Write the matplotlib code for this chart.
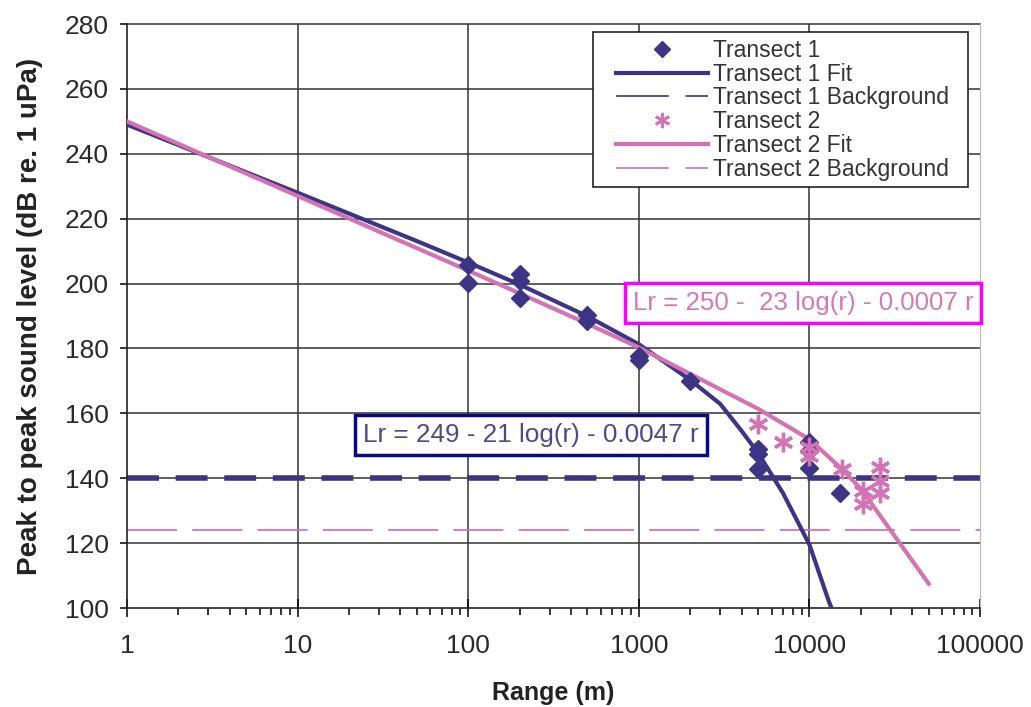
import numpy as np
import matplotlib.pyplot as plt
from matplotlib.lines import Line2D
from matplotlib.legend_handler import HandlerLine2D

plt.rcParams['font.family'] = ['Liberation Sans', 'DejaVu Sans']
plt.rcParams['lines.scale_dashes'] = False

# measured points
t1_range = [100, 100, 200, 200, 200, 500, 500, 1000, 1000, 2000,
            5000, 5000, 5000, 10000, 10000, 10000, 15000]
t1_level = [205.6, 200.3, 203.0, 200.7, 195.5, 190.2, 188.6, 177.8, 176.3, 170.1,
            149.0, 147.5, 143.0, 151.1, 148.5, 143.3, 135.6]

t2_range = [5000, 7000, 10000, 10000, 15500, 20500, 20500, 26000, 26000, 26000]
t2_level = [156.8, 151.1, 149.6, 147.0, 142.9, 136.2, 132.1, 143.4, 139.3, 135.6]

# fitted curves
fit1_range = [1, 2, 5, 10, 20, 50, 100, 200, 500, 1000, 2000, 3000, 4000,
              5000, 7000, 10000, 13000, 15000]
fit1_level = [249, 242.7, 234.3, 228, 221.6, 213.1, 206.5, 199.7, 189.9, 181.3,
              170.3, 162.9, 154.6, 147.8, 135.4, 119.5, 102, 94]

fit2_range = [1, 10, 100, 200, 500, 1000, 5000, 10000, 15000, 20000, 50000]
fit2_level = [250, 227, 204, 197, 187.6, 180.3, 161.4, 152, 143.5, 136.8, 107.5]

bg1_level = 140
bg2_level = 124

eq1 = "Lr = 249 - 21 log(r) - 0.0047 r"
eq2 = "Lr = 250 -  23 log(r) - 0.0007 r"

navy = "#3d3485"
pink = "#d472b6"

fig = plt.figure(figsize=(10.31, 7.07), dpi=100)
ax = fig.add_axes([0.1232, 0.14, 0.8274, 0.826])

ax.set_xscale("log")
ax.set_xlim(1, 100000)
ax.set_ylim(100, 280)

# gridlines like the excel chart
for gx in [10, 100, 1000, 10000]:
    ax.axvline(gx, color="#333333", lw=1.1, zorder=0.5)
for gy in range(120, 281, 20):
    ax.axhline(gy, color="#333333", lw=1.1, zorder=0.5, clip_on=False)

ax.axhline(bg1_level, color=navy, lw=4, dashes=(23, 12), zorder=2)
ax.axhline(bg2_level, color=pink, lw=1.3, dashes=(36, 11), zorder=2)

ax.plot(fit1_range, fit1_level, color=navy, lw=3, zorder=3)
ax.plot(fit2_range, fit2_level, color=pink, lw=3, zorder=3)

ax.plot(t1_range, t1_level, ls="none", marker="D", ms=9.5, color=navy, zorder=4)
ax.plot(t2_range, t2_level, ls="none", marker=(6, 2, 0), ms=14, mew=2.4,
        color=pink, zorder=4)

# axes styling
ax.spines["top"].set_visible(False)
ax.spines["right"].set_color("#bdb5b5")
ax.spines["left"].set_color("#222222")
ax.spines["bottom"].set_color("#222222")
ax.spines["left"].set_linewidth(1.2)
ax.spines["bottom"].set_linewidth(1.2)

ax.set_yticks(range(100, 281, 20))
ax.tick_params(axis="y", which="major", direction="out", length=5, width=1.1,
               labelsize=19, labelcolor="#2a2a2a", pad=8)
ax.set_xticks([1, 10, 100, 1000, 10000, 100000])
ax.set_xticklabels(["1", "10", "100", "1000", "10000", "100000"])
ax.tick_params(axis="x", which="major", direction="inout", length=13, width=1.1,
               labelsize=19, labelcolor="#2a2a2a", pad=12)
ax.tick_params(axis="x", which="minor", direction="out", length=5, width=1.1)

ax.set_xlabel("Range (m)", fontsize=18, fontweight="bold", color="#222222",
              labelpad=17)
ax.set_ylabel("Peak to peak sound level (dB re. 1 uPa)", fontsize=20,
              fontweight="bold", color="#222222", labelpad=16)

# equation boxes
ax.text(0.4736, 0.296, eq1, transform=ax.transAxes, ha="center", va="center",
        fontsize=18.8, color="#4d4a8c",
        bbox=dict(boxstyle="square,pad=0.3", fc="white", ec="#0a0a80", lw=2.5),
        zorder=5)
ax.text(0.7925, 0.522, eq2, transform=ax.transAxes, ha="center", va="center",
        fontsize=18.6, color="#d07ab8",
        bbox=dict(boxstyle="square,pad=0.3", fc="white", ec="#ff00ff", lw=2.5),
        zorder=5)

# legend with proxy handles (thin background lines)
handles = [
    Line2D([], [], ls="none", marker="D", ms=8.5, color=navy),
    Line2D([], [], color=navy, lw=3),
    Line2D([], [], color=navy, lw=1.2, dashes=(38, 12)),
    Line2D([], [], ls="none", marker=(6, 2, 0), ms=11, mew=2, color=pink),
    Line2D([], [], color=pink, lw=3),
    Line2D([], [], color=pink, lw=1.2, dashes=(38, 12)),
]
labels = ["Transect 1  ", "Transect 1 Fit  ", "Transect 1 Background  ",
          "Transect 2  ", "Transect 2 Fit  ", "Transect 2 Background  "]
leg = ax.legend(handles, labels, loc="upper right", bbox_to_anchor=(0.986, 0.986),
                fontsize=16.5, frameon=True, fancybox=False, edgecolor="#222222",
                framealpha=1, handlelength=4.7, handletextpad=0.2,
                labelspacing=0.03, borderpad=0.3, borderaxespad=0,
                handler_map={Line2D: HandlerLine2D(xpad=0.7)})
leg.get_frame().set_linewidth(1.2)
for t in leg.get_texts():
    t.set_color("#333333")

fig.savefig("out.png", dpi=100)
